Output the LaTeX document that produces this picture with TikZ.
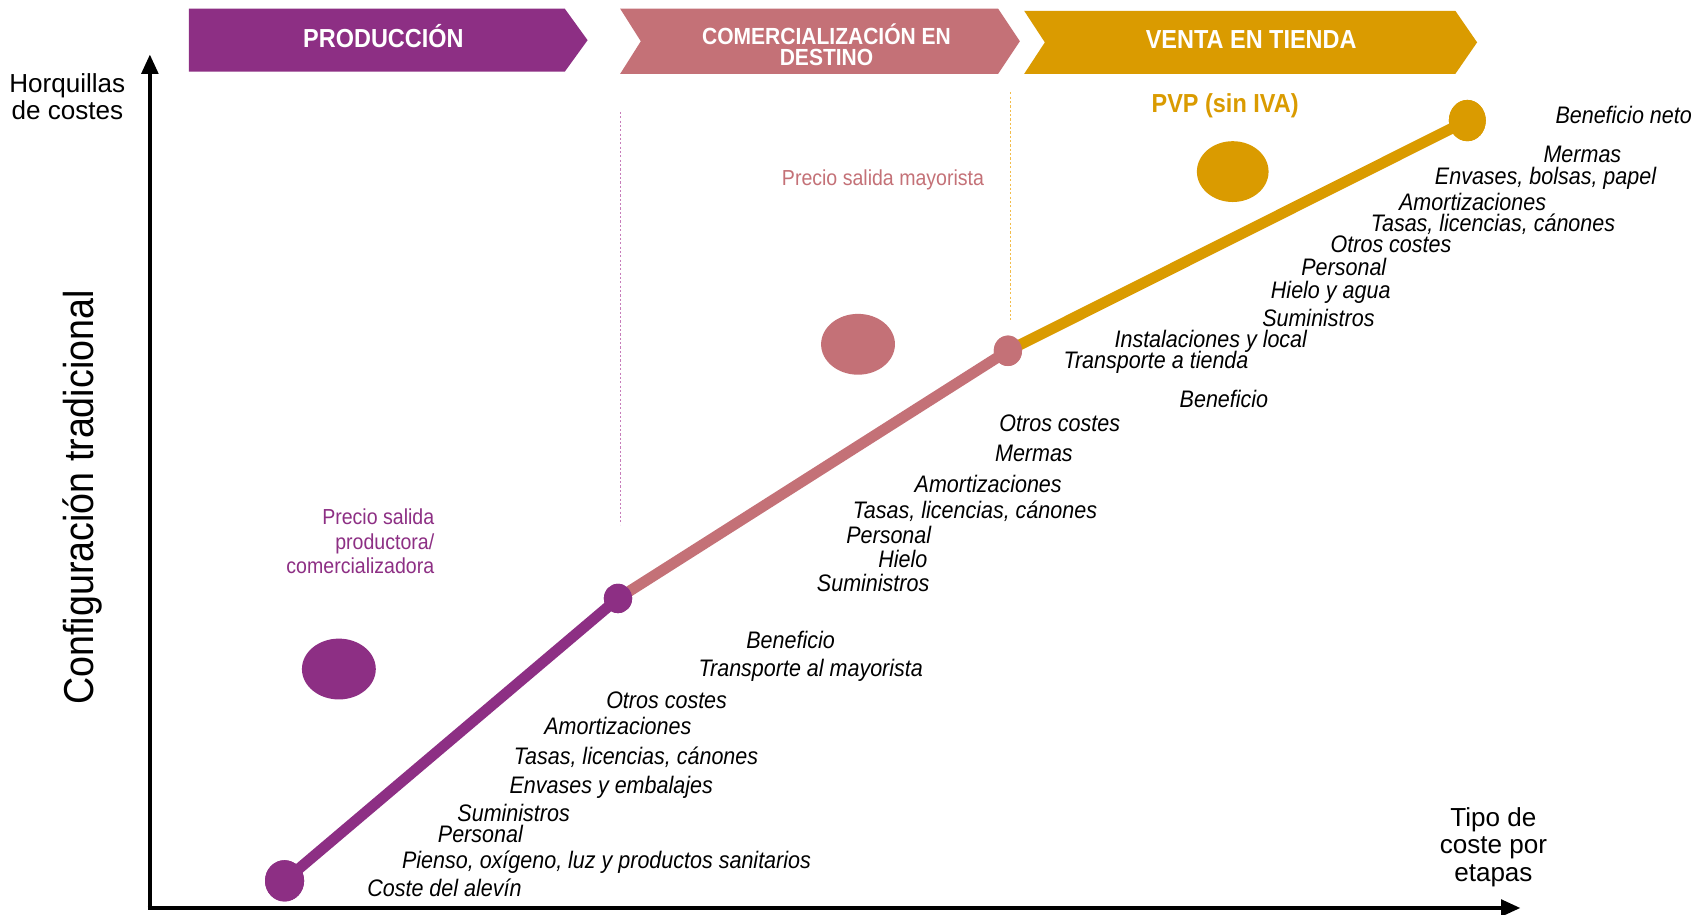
\documentclass[tikz,border=0pt]{standalone}
\usepackage{fontspec}
\setmainfont{Liberation Sans}
\newfontfamily\nar[FakeStretch=0.9]{Liberation Sans}
\usetikzlibrary{arrows.meta,shapes.geometric}
\definecolor{cpur}{HTML}{8D2F84}
\definecolor{crose}{HTML}{C47177}
\definecolor{cgold}{HTML}{DA9B00}
\definecolor{cpurl}{HTML}{C77DBA}
\definecolor{cgoldl}{HTML}{F2BC4A}
\tikzset{
  lbl/.style={font=\nar\itshape\fontsize{22}{24}\selectfont, inner sep=0pt, text height=16pt, text depth=5pt, anchor=west, yshift=-2pt},
  lblr/.style={lbl, anchor=east},
  hdr/.style={font=\nar\bfseries\fontsize{24}{22}\selectfont, text=white, align=center, inner sep=0pt},
  axisline/.style={line width=4pt, -{Triangle[length=18pt,width=15pt]}},
  seg/.style={line width=10pt},
  dot/.style={ellipse, inner sep=0pt, draw=none},
  guide/.style={line width=1pt, dash pattern=on 2pt off 2pt},
}
\begin{document}
\begin{tikzpicture}[x=1pt,y=-1pt]
\useasboundingbox (0,0) rectangle (1568,842);
\fill[white] (0,0) rectangle (1568,842);

% header chevrons
\fill[cpur] (174,8) -- (520,8) -- (541,37) -- (520,66) -- (174,66) -- cycle;
\fill[crose] (571,8) -- (919,8) -- (939,38) -- (919,68) -- (571,68) -- (590,38) -- cycle;
\fill[cgold] (943,10) -- (1340,10) -- (1360,39) -- (1340,68) -- (943,68) -- (962,39) -- cycle;
\node[hdr] (h1) at (353,33) {PRODUCCIÓN};
\node[hdr, font=\nar\bfseries\fontsize{21.5}{19.5}\selectfont] (h2) at (761,41) {COMERCIALIZACIÓN EN\\DESTINO};
\node[hdr] (h3) at (1152,36) {VENTA EN TIENDA};

% dotted guides
\coordinate (g1a) at (571,103); \coordinate (g1b) at (571,483);
\coordinate (g2a) at (930,85); \coordinate (g2b) at (930,295);
\draw[guide, cpurl] (g1a) -- (g1b);
\draw[guide, cgoldl] (g2a) -- (g2b);

% axes
\coordinate (O) at (138,836);
\coordinate (Ytop) at (138,50);
\coordinate (Xend) at (1400,836);
\draw[axisline] (O) -- (Ytop);
\draw[axisline] ([xshift=-2pt]O) -- (Xend);

% path dots
\node[dot, fill=cpur, minimum width=36pt, minimum height=38pt] (p0) at (262,811) {};
\node[dot, fill=cpur, minimum width=26pt, minimum height=27pt] (p1) at (569,551) {};
\node[dot, fill=crose, minimum width=26pt, minimum height=28pt] (p2) at (928,323) {};
\node[dot, fill=cgold, minimum width=34pt, minimum height=38pt] (p3) at (1351,111) {};

\draw[seg, cgold] (p2.center) -- (p3.center);
\draw[seg, crose] (p1.center) -- (p2.center);
\draw[seg, cpur] (p0.center) -- (p1.center);
\node[dot, fill=cpur, minimum width=36pt, minimum height=38pt] at (p0) {};
\node[dot, fill=cpur, minimum width=26pt, minimum height=27pt] at (p1) {};
\node[dot, fill=crose, minimum width=26pt, minimum height=28pt] at (p2) {};
\node[dot, fill=cgold, minimum width=34pt, minimum height=38pt] at (p3) {};

% big ellipses
\node[dot, fill=cpur, minimum width=68pt, minimum height=56pt] (e1) at (312,616) {};
\node[dot, fill=crose, minimum width=68pt, minimum height=56pt] (e2) at (790,317) {};
\node[dot, fill=cgold, minimum width=66pt, minimum height=56pt] (e3) at (1135,158) {};

% price labels
\node[font=\nar\fontsize{20}{22.5}\selectfont, text=cpur, align=right, inner sep=0pt, anchor=north east] (pl1) at (400,468.5) {Precio salida\\productora/\\comercializadora};
\node[font=\nar\fontsize{20}{22}\selectfont, text=crose, inner sep=0pt] (pl2) at (813,166) {Precio salida mayorista};
\node[font=\nar\bfseries\fontsize{24}{26}\selectfont, text=cgold, inner sep=0pt] (pl3) at (1128,97) {PVP (sin IVA)};

% axis titles
\node[font=\fontsize{24}{25}\selectfont, align=center, inner sep=0pt] (ytitle) at (62,89) {Horquillas\\de costes};
\node[font=\nar\fontsize{38.5}{40}\selectfont, rotate=90, inner sep=0pt] (ytitle2) at (76,458) {Configuración tradicional};
\node[font=\fontsize{24}{25}\selectfont, align=center, inner sep=0pt] (xtitle) at (1375,780) {Tipo de\\coste por\\etapas};

% production costs
\node[lbl] (a1) at (338,818) {Coste del alevín};
\node[lbl] (a2) at (370,792) {Pienso, oxígeno, luz y productos sanitarios};
\node[lbl] (a3) at (403,768) {Personal};
\node[lbl] (a4) at (421,749) {Suministros};
\node[lbl] (a5) at (469,723) {Envases y embalajes};
\node[lbl] (a6) at (473,696) {Tasas, licencias, cánones};
\node[lbl] (a7) at (501,669) {Amortizaciones};
\node[lbl] (a8) at (558,645) {Otros costes};
\node[lbl] (a9) at (643,615) {Transporte al mayorista};
\node[lbl] (a10) at (687,590) {Beneficio};

% commercialisation costs
\node[lbl] (b1) at (752,537) {Suministros};
\node[lblr] (b2) at (854,515) {Hielo};
\node[lbl] (b3) at (779,493) {Personal};
\node[lbl] (b4) at (785,470) {Tasas, licencias, cánones};
\node[lbl] (b5) at (842,446) {Amortizaciones};
\node[lbl] (b6) at (916,417) {Mermas};
\node[lbl] (b7) at (920,390) {Otros costes};
\node[lbl] (b8) at (1086,368) {Beneficio};

% shop costs
\node[lbl] (c1) at (979,332) {Transporte a tienda};
\node[lbl] (c2) at (1026,312) {Instalaciones y local};
\node[lbl] (c3) at (1162,293) {Suministros};
\node[lbl] (c4) at (1170,267) {Hielo y agua};
\node[lbl] (c5) at (1198,246) {Personal};
\node[lbl] (c6) at (1225,225) {Otros costes};
\node[lbl] (c7) at (1262,206) {Tasas, licencias, cánones};
\node[lbl] (c8) at (1288,186) {Amortizaciones};
\node[lbl] (c9) at (1321,162) {Envases, bolsas, papel};
\node[lbl] (c10) at (1421,142) {Mermas};
\node[lbl] (c11) at (1432,106) {Beneficio neto};
\end{tikzpicture}
\end{document}
